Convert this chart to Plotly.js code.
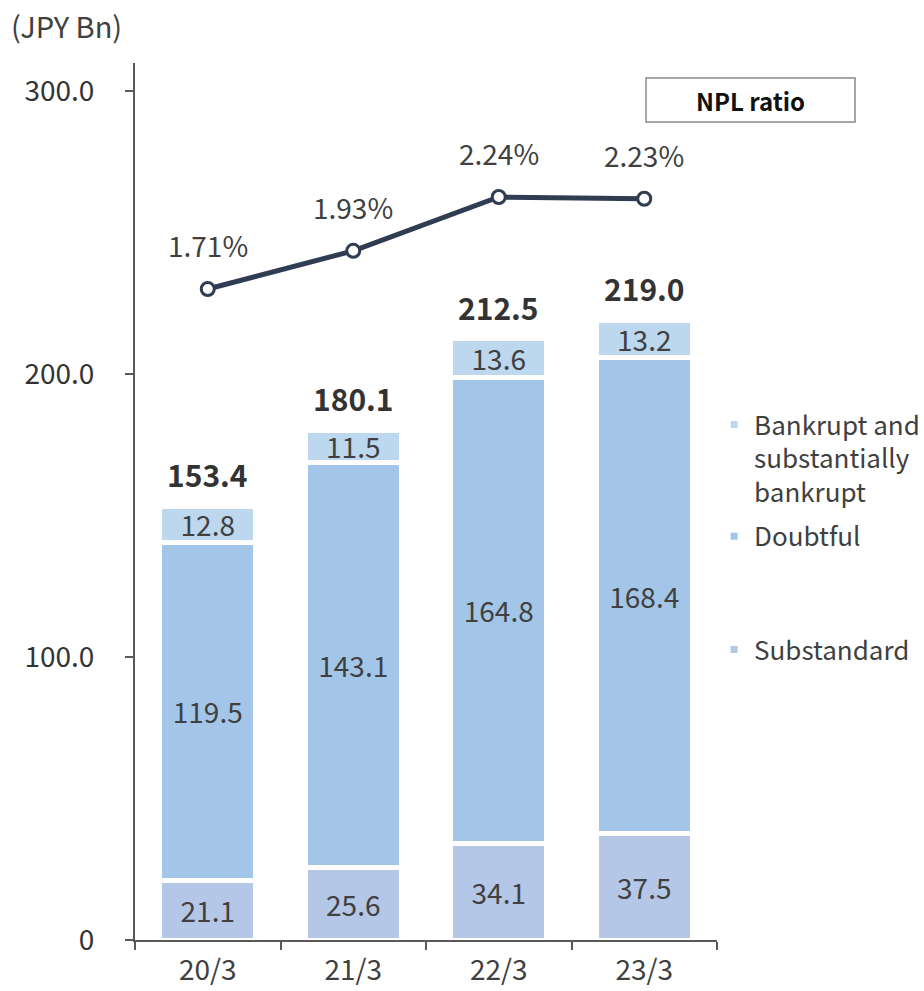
<!DOCTYPE html>
<html>
<head>
<meta charset="utf-8">
<script src="https://cdn.plot.ly/plotly-3.0.1.min.js"></script>
<style>html,body{margin:0;padding:0;background:#fff;}#chart{width:924px;height:991px;}</style>
</head>
<body>
<div id="chart"></div>
<script>
const categories = ['20/3', '21/3', '22/3', '23/3'];
const substandard = [21.1, 25.6, 34.1, 37.5];
const doubtful = [119.5, 143.1, 164.8, 168.4];
const bankrupt = [12.8, 11.5, 13.6, 13.2];
const totals = [153.4, 180.1, 212.5, 219.0];
const nplRatio = [1.71, 1.93, 2.24, 2.23];
const yTickVals = [0, 100, 200, 300];
const yTickText = ['0', '100.0', '200.0', '300.0'];

const FONT = '"Noto Sans CJK JP", "Noto Sans", sans-serif';
const TXT = '#404040';
const barW = 0.66;
const lineW = 5;

function barTrace(name, vals, color, legend) {
  return {
    type: 'bar', name: name, x: categories, y: vals,
    width: barW,
    marker: {color: color, line: {color: '#ffffff', width: lineW}},
    text: vals.map(v => v.toFixed(1)),
    textposition: 'inside', insidetextanchor: 'middle',
    textfont: {family: FONT, size: 28, color: TXT},
    hoverinfo: 'skip', legend: legend
  };
}

const traces = [
  barTrace('Substandard', substandard, '#b4c7e7', 'legend2'),
  barTrace('Doubtful', doubtful, '#a3c6e8', 'legend3'),
  barTrace('Bankrupt and<br>substantially<br>bankrupt', bankrupt, '#bdd7ee', 'legend'),
  {
    type: 'scatter', mode: 'lines+markers', x: categories, y: nplRatio, yaxis: 'y2',
    line: {color: '#2f3c52', width: 5},
    marker: {size: 13, color: '#ffffff', line: {color: '#2f3c52', width: 3}},
    showlegend: false, hoverinfo: 'skip'
  }
];

const annotations = [];
categories.forEach((c, i) => {
  annotations.push({x: c, y: totals[i], xref: 'x', yref: 'y', text: '<b>' + totals[i].toFixed(1) + '</b>',
    showarrow: false, yanchor: 'middle', yshift: 32, font: {family: FONT, size: 30, color: '#333333'}});
  annotations.push({x: c, y: nplRatio[i], xref: 'x', yref: 'y2', text: nplRatio[i].toFixed(2) + '%',
    showarrow: false, yanchor: 'middle', yshift: 44, font: {family: FONT, size: 28, color: TXT}});
});
annotations.push({xref: 'paper', yref: 'paper', x: 1.058, y: 0.958, xanchor: 'center', yanchor: 'middle',
  text: '<b>NPL ratio</b>', showarrow: false, width: 207, height: 42, borderpad: 0,
  bordercolor: '#a6a6a6', borderwidth: 2, bgcolor: '#ffffff', font: {family: FONT, size: 24, color: '#111111'}});
annotations.push({xref: 'paper', yref: 'paper', x: -0.216, y: 1.043, xanchor: 'left', yanchor: 'middle',
  text: '(JPY Bn)', showarrow: false, font: {family: FONT, size: 29, color: TXT}});

const legendBase = {
  x: 0.995, xanchor: 'left', yanchor: 'top', valign: 'top',
  bgcolor: 'rgba(0,0,0,0)', borderwidth: 0,
  font: {family: FONT, size: 26, color: TXT}, itemclick: false, itemdoubleclick: false
};

const layout = {
  width: 924, height: 991,
  margin: {l: 135, r: 207, t: 63, b: 51, autoexpand: false},
  paper_bgcolor: '#ffffff', plot_bgcolor: '#ffffff',
  barmode: 'stack',
  font: {family: FONT, color: TXT},
  showlegend: true,
  uniformtext: {mode: 'show', minsize: 28},
  xaxis: {
    type: 'category', range: [-0.5, 3.5], tickson: 'boundaries',
    showline: true, linecolor: '#595959', linewidth: 2,
    ticks: 'outside', ticklen: 8, tickwidth: 2, tickcolor: '#595959',
    showgrid: false, zeroline: false, fixedrange: true,
    tickfont: {family: FONT, size: 28, color: TXT}, ticklabelstandoff: 4
  },
  yaxis: {
    range: [0, 310], tickvals: yTickVals, ticktext: yTickText,
    showline: true, linecolor: '#595959', linewidth: 2,
    ticks: 'outside', ticklen: 8, tickwidth: 2, tickcolor: '#595959',
    showgrid: false, zeroline: false, fixedrange: true,
    tickfont: {family: FONT, size: 28, color: '#333333'}, ticklabelstandoff: 25
  },
  yaxis2: {
    overlaying: 'y', side: 'right', range: [-2.04, 3.012], visible: false, fixedrange: true
  },
  legend: Object.assign({}, legendBase, {y: 0.6146}),
  legend3: Object.assign({}, legendBase, {y: 0.487}),
  legend2: Object.assign({}, legendBase, {y: 0.358}),
  annotations: annotations
};

Plotly.newPlot('chart', traces, layout, {displayModeBar: false, staticPlot: true});
</script>
</body>
</html>
